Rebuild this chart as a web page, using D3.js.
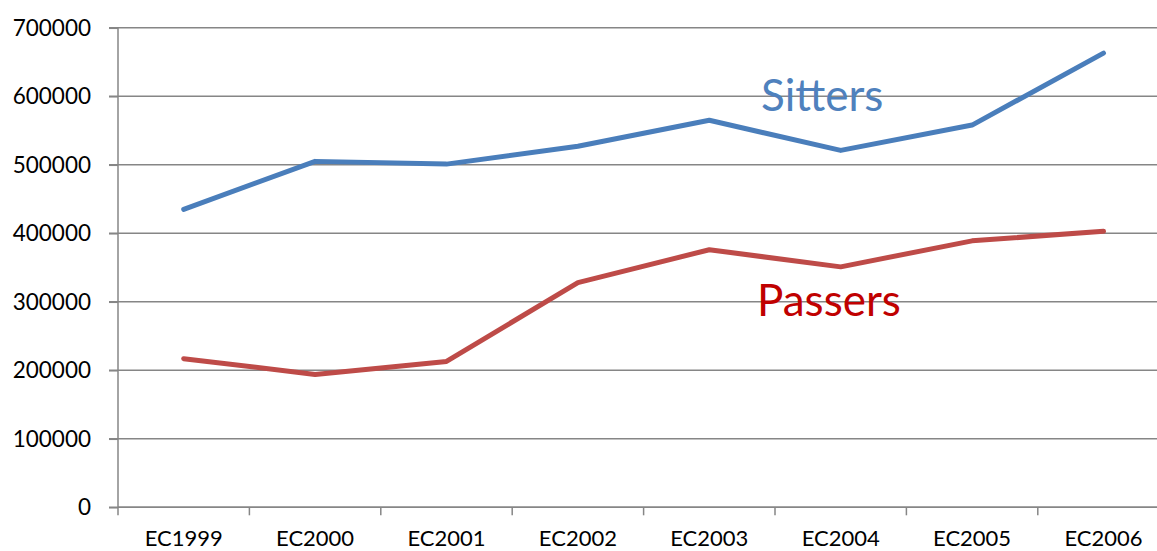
<!DOCTYPE html>
<html>
<head>
<meta charset="utf-8">
<script src="https://cdn.jsdelivr.net/npm/d3@7"></script>
<style>
  html, body { margin: 0; padding: 0; background: #fff; }
  svg { display: block; font-family: Lato, "Open Sans", sans-serif; }
</style>
</head>
<body>
<svg id="chart" width="1157" height="551"></svg>
<script>
// Exam candidates per sitting
const categories = ["EC1999", "EC2000", "EC2001", "EC2002", "EC2003", "EC2004", "EC2005", "EC2006"];
const sitters = [435000, 505000, 501000, 527000, 565000, 521000, 558000, 663000];
const passers = [217000, 194000, 213000, 328000, 376000, 351000, 389000, 403000];
const yTicks = [0, 100000, 200000, 300000, 400000, 500000, 600000, 700000];

const svg = d3.select("#chart");
const W = 1157;

const x = d3.scaleBand().domain(categories).range([118, 1169.2]).padding(0);
const y = d3.scaleLinear().domain([0, 700000]).range([507.3, 27.8]);

const gridColor = "#868686";

// horizontal gridlines, starting at the left tick stub
svg.append("g")
  .selectAll("line")
  .data(yTicks)
  .join("line")
  .attr("x1", 109).attr("x2", W)
  .attr("y1", d => y(d)).attr("y2", d => y(d))
  .attr("stroke", gridColor).attr("stroke-width", 1.5);

// y axis
const yAxis = svg.append("g")
  .attr("transform", "translate(118,0)")
  .call(d3.axisLeft(y).tickValues(yTicks).tickFormat(d3.format("d")).tickSize(9).tickPadding(18));
yAxis.select(".domain").attr("stroke", gridColor).attr("stroke-width", 1.5).attr("d", `M0,${y(700000)}V${y(0)}`);
yAxis.selectAll(".tick line").attr("stroke", gridColor).attr("stroke-width", 1.5);
yAxis.selectAll(".tick text")
  .attr("font-family", "Lato, sans-serif")
  .attr("font-size", 22.5)
  .attr("fill", "#000");

// x axis with ticks at category boundaries
const boundaries = categories.map(c => x(c)).concat([x.range()[1]]);
const xg = svg.append("g");
xg.append("line")
  .attr("x1", 118).attr("x2", W)
  .attr("y1", y(0)).attr("y2", y(0))
  .attr("stroke", gridColor).attr("stroke-width", 1.5);
xg.selectAll("line.tk")
  .data(boundaries)
  .join("line")
  .attr("class", "tk")
  .attr("x1", d => d).attr("x2", d => d)
  .attr("y1", y(0)).attr("y2", y(0) + 8)
  .attr("stroke", gridColor).attr("stroke-width", 1.5);
xg.selectAll("text")
  .data(categories)
  .join("text")
  .attr("x", d => x(d) + x.bandwidth() / 2)
  .attr("y", 546)
  .attr("text-anchor", "middle")
  .attr("font-size", 22)
  .attr("fill", "#000")
  .text(d => d);

// series lines
const line = d3.line()
  .x((d, i) => x(categories[i]) + x.bandwidth() / 2)
  .y(d => y(d));

svg.append("path")
  .datum(sitters)
  .attr("d", line)
  .attr("fill", "none")
  .attr("stroke", "#4A7EBB")
  .attr("stroke-width", 5)
  .attr("stroke-linecap", "round")
  .attr("stroke-linejoin", "round");

svg.append("path")
  .datum(passers)
  .attr("d", line)
  .attr("fill", "none")
  .attr("stroke", "#BE4B48")
  .attr("stroke-width", 5)
  .attr("stroke-linecap", "round")
  .attr("stroke-linejoin", "round");

// series labels
svg.append("text")
  .attr("x", 761).attr("y", 110.5)
  .attr("font-size", 44)
  .attr("fill", "#4F81BD")
  .text("Sitters");

svg.append("text")
  .attr("x", 757).attr("y", 315.5)
  .attr("font-size", 44)
  .attr("fill", "#C00000")
  .text("Passers");
</script>
</body>
</html>
